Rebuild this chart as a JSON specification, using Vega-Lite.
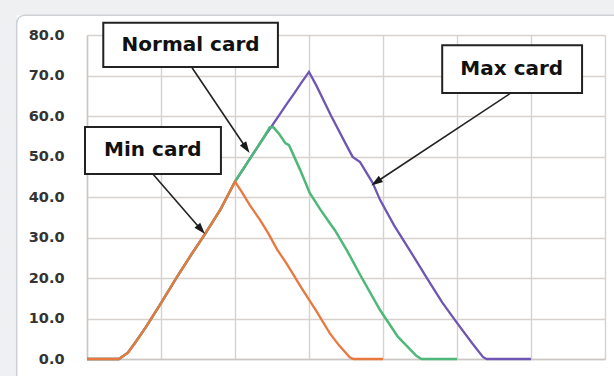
{
  "$schema": "https://vega.github.io/schema/vega-lite/v6.json",
  "width": 518,
  "height": 324,
  "autosize": {"type": "none"},
  "padding": {"left": 87, "top": 35, "right": 9, "bottom": 17},
  "background": "white",
  "config": {
    "view": {"stroke": null},
    "font": "DejaVu Sans",
    "axisX": {"labels": false, "ticks": false, "grid": true, "gridColor": "#d8d2cf", "gridWidth": 1.4, "domainColor": "#cac6c4", "domainWidth": 1.4},
    "axisY": {"ticks": false, "labelPadding": 23, "labelFont": "DejaVu Sans", "labelFontWeight": "bold", "labelFontSize": 14.5, "labelColor": "#333333", "grid": true, "gridColor": "#d8d2cf", "gridWidth": 1.4, "domainColor": "#cac6c4", "domainWidth": 1.4}
  },
  "datasets": {
    "frame": [{"x": -9.5, "x2": 76, "y": 84.9, "y2": -10, "sx": -13, "sy": 92}],
    "curves": [
      {"s": "Min card", "x": 0, "v": 0}, {"s": "Min card", "x": 4.3, "v": 0}, {"s": "Min card", "x": 5.5, "v": 1.5}, {"s": "Min card", "x": 6.5, "v": 4}, {"s": "Min card", "x": 8, "v": 8}, {"s": "Min card", "x": 10, "v": 13.8}, {"s": "Min card", "x": 12, "v": 19.8}, {"s": "Min card", "x": 14, "v": 25.5}, {"s": "Min card", "x": 16, "v": 31}, {"s": "Min card", "x": 18, "v": 36.8}, {"s": "Min card", "x": 20, "v": 43.8},
      {"s": "Min card", "x": 21, "v": 41}, {"s": "Min card", "x": 22, "v": 38}, {"s": "Min card", "x": 23.4, "v": 34.3}, {"s": "Min card", "x": 24.5, "v": 31}, {"s": "Min card", "x": 25.7, "v": 27}, {"s": "Min card", "x": 27, "v": 23.5}, {"s": "Min card", "x": 29, "v": 17.5}, {"s": "Min card", "x": 31, "v": 11.8}, {"s": "Min card", "x": 32.8, "v": 6.4}, {"s": "Min card", "x": 34, "v": 3.5}, {"s": "Min card", "x": 35.5, "v": 0.4}, {"s": "Min card", "x": 36, "v": 0}, {"s": "Min card", "x": 40, "v": 0},
      {"s": "Normal card", "x": 0, "v": 0}, {"s": "Normal card", "x": 4.3, "v": 0}, {"s": "Normal card", "x": 5.5, "v": 1.5}, {"s": "Normal card", "x": 6.5, "v": 4}, {"s": "Normal card", "x": 8, "v": 8}, {"s": "Normal card", "x": 10, "v": 13.8}, {"s": "Normal card", "x": 12, "v": 19.8}, {"s": "Normal card", "x": 14, "v": 25.5}, {"s": "Normal card", "x": 16, "v": 31}, {"s": "Normal card", "x": 18, "v": 36.8}, {"s": "Normal card", "x": 20, "v": 43.8},
      {"s": "Normal card", "x": 21, "v": 46.6}, {"s": "Normal card", "x": 22, "v": 49.4}, {"s": "Normal card", "x": 23, "v": 52.2}, {"s": "Normal card", "x": 24, "v": 55}, {"s": "Normal card", "x": 24.7, "v": 57.2}, {"s": "Normal card", "x": 25.2, "v": 57.2}, {"s": "Normal card", "x": 26, "v": 55.5}, {"s": "Normal card", "x": 26.8, "v": 53.3}, {"s": "Normal card", "x": 27.3, "v": 52.8}, {"s": "Normal card", "x": 28.8, "v": 46.7}, {"s": "Normal card", "x": 30.1, "v": 41}, {"s": "Normal card", "x": 31.5, "v": 37}, {"s": "Normal card", "x": 32.8, "v": 33.6}, {"s": "Normal card", "x": 33.5, "v": 31.8}, {"s": "Normal card", "x": 35.1, "v": 26.9}, {"s": "Normal card", "x": 37, "v": 20.5}, {"s": "Normal card", "x": 39.6, "v": 12.1}, {"s": "Normal card", "x": 42, "v": 5.5}, {"s": "Normal card", "x": 44.5, "v": 0.8}, {"s": "Normal card", "x": 45.2, "v": 0}, {"s": "Normal card", "x": 50, "v": 0},
      {"s": "Max card", "x": 0, "v": 0}, {"s": "Max card", "x": 4.3, "v": 0}, {"s": "Max card", "x": 5.5, "v": 1.5}, {"s": "Max card", "x": 6.5, "v": 4}, {"s": "Max card", "x": 8, "v": 8}, {"s": "Max card", "x": 10, "v": 13.8}, {"s": "Max card", "x": 12, "v": 19.8}, {"s": "Max card", "x": 14, "v": 25.5}, {"s": "Max card", "x": 16, "v": 31}, {"s": "Max card", "x": 18, "v": 36.8}, {"s": "Max card", "x": 20, "v": 43.8},
      {"s": "Max card", "x": 21, "v": 46.6}, {"s": "Max card", "x": 22, "v": 49.4}, {"s": "Max card", "x": 23, "v": 52.2}, {"s": "Max card", "x": 24, "v": 55}, {"s": "Max card", "x": 25, "v": 57.6}, {"s": "Max card", "x": 26, "v": 60.3}, {"s": "Max card", "x": 27, "v": 63}, {"s": "Max card", "x": 28, "v": 65.6}, {"s": "Max card", "x": 29, "v": 68.3}, {"s": "Max card", "x": 30, "v": 70.9}, {"s": "Max card", "x": 31, "v": 67.5}, {"s": "Max card", "x": 33, "v": 60}, {"s": "Max card", "x": 35, "v": 53}, {"s": "Max card", "x": 35.9, "v": 49.9}, {"s": "Max card", "x": 36.9, "v": 48.6}, {"s": "Max card", "x": 38.6, "v": 43.5}, {"s": "Max card", "x": 39.6, "v": 39.3}, {"s": "Max card", "x": 41.5, "v": 33}, {"s": "Max card", "x": 43.6, "v": 26.9}, {"s": "Max card", "x": 46, "v": 19.8}, {"s": "Max card", "x": 48, "v": 14}, {"s": "Max card", "x": 50, "v": 8.9}, {"s": "Max card", "x": 52, "v": 4}, {"s": "Max card", "x": 53.5, "v": 0.5}, {"s": "Max card", "x": 54, "v": 0}, {"s": "Max card", "x": 60, "v": 0}
    ],
    "notes": [
      {"label": "Normal card", "bx": 2.2, "bx2": 25.8, "by": 83.0, "by2": 72.1, "tx": 14.0, "ty": 77.5, "ax": 14.2, "ay": 71.9, "hx": 21.5, "hy": 52.1},
      {"label": "Min card", "bx": -0.27, "bx2": 18.1, "by": 57.3, "by2": 45.7, "tx": 8.9, "ty": 51.5, "ax": 8.9, "ay": 45.7, "hx": 15.4, "hy": 32.0},
      {"label": "Max card", "bx": 48.0, "bx2": 66.9, "by": 77.5, "by2": 65.7, "tx": 57.4, "ty": 71.6, "ax": 57.3, "ay": 65.7, "hx": 39.1, "hy": 43.7}
    ]
  },
  "encoding": {
    "x": {"type": "quantitative", "scale": {"domain": [0, 70], "nice": false, "zero": false},
      "axis": {"title": null, "values": [0, 10, 20, 30, 40, 50, 60, 70]}},
    "y": {"type": "quantitative", "scale": {"domain": [0, 80], "nice": false, "zero": false},
      "axis": {"title": null, "values": [0, 10, 20, 30, 40, 50, 60, 70, 80], "format": ".1f"}}
  },
  "layer": [
    {
      "data": {"name": "frame"},
      "mark": {"type": "rect", "fill": "#eef0f2"},
      "encoding": {
        "x": {"field": "sx"}, "x2": {"field": "x2"},
        "y": {"field": "y"}, "y2": {"field": "sy"}
      }
    },
    {
      "data": {"name": "frame"},
      "mark": {"type": "rect", "fill": "#eef0f2"},
      "encoding": {
        "x": {"field": "sx"}, "x2": {"field": "x"},
        "y": {"field": "y2"}, "y2": {"field": "sy"}
      }
    },
    {
      "data": {"name": "frame"},
      "mark": {"type": "rect", "fillOpacity": 0, "stroke": "#cdd1d5", "strokeWidth": 1.5, "cornerRadius": 8},
      "encoding": {
        "x": {"field": "x"}, "x2": {"field": "x2"},
        "y": {"field": "y"}, "y2": {"field": "y2"}
      }
    },
    {
      "data": {"name": "curves"},
      "transform": [{"filter": {"field": "s", "equal": "Max card"}}],
      "mark": {"type": "line", "color": "#6f56b2", "strokeWidth": 2.3},
      "encoding": {"x": {"field": "x"}, "y": {"field": "v"}}
    },
    {
      "data": {"name": "curves"},
      "transform": [{"filter": {"field": "s", "equal": "Normal card"}}],
      "mark": {"type": "line", "color": "#4db878", "strokeWidth": 2.5},
      "encoding": {"x": {"field": "x"}, "y": {"field": "v"}}
    },
    {
      "data": {"name": "curves"},
      "transform": [{"filter": {"field": "s", "equal": "Min card"}}],
      "mark": {"type": "line", "color": "#e9783f", "strokeWidth": 2.3},
      "encoding": {"x": {"field": "x"}, "y": {"field": "v"}}
    },
    {
      "data": {"name": "notes"},
      "mark": {"type": "rule", "color": "#222222", "strokeWidth": 1.6},
      "encoding": {
        "x": {"field": "ax"}, "y": {"field": "ay"},
        "x2": {"field": "hx"}, "y2": {"field": "hy"}
      }
    },
    {
      "data": {"name": "notes"},
      "transform": [{"filter": {"field": "label", "equal": "Normal card"}}],
      "mark": {"type": "point", "shape": "M0,-1L0.62,0.9L-0.62,0.9Z", "filled": true, "fill": "#1a1a1a", "strokeWidth": 0, "size": 150, "angle": 146, "opacity": 1},
      "encoding": {"x": {"field": "hx"}, "y": {"field": "hy"}}
    },
    {
      "data": {"name": "notes"},
      "transform": [{"filter": {"field": "label", "equal": "Min card"}}],
      "mark": {"type": "point", "shape": "M0,-1L0.62,0.9L-0.62,0.9Z", "filled": true, "fill": "#1a1a1a", "strokeWidth": 0, "size": 150, "angle": 139, "opacity": 1},
      "encoding": {"x": {"field": "hx"}, "y": {"field": "hy"}}
    },
    {
      "data": {"name": "notes"},
      "transform": [{"filter": {"field": "label", "equal": "Max card"}}],
      "mark": {"type": "point", "shape": "M0,-1L0.62,0.9L-0.62,0.9Z", "filled": true, "fill": "#1a1a1a", "strokeWidth": 0, "size": 150, "angle": 236, "opacity": 1},
      "encoding": {"x": {"field": "hx"}, "y": {"field": "hy"}}
    },
    {
      "data": {"name": "notes"},
      "mark": {"type": "rect", "fill": "white", "stroke": "#222222", "strokeWidth": 2},
      "encoding": {
        "x": {"field": "bx"}, "x2": {"field": "bx2"},
        "y": {"field": "by"}, "y2": {"field": "by2"}
      }
    },
    {
      "data": {"name": "notes"},
      "mark": {"type": "text", "font": "DejaVu Sans", "fontWeight": "bold", "fontSize": 20, "color": "#111111", "align": "center", "baseline": "middle"},
      "encoding": {
        "x": {"field": "tx"}, "y": {"field": "ty"},
        "text": {"field": "label"}
      }
    }
  ]
}
